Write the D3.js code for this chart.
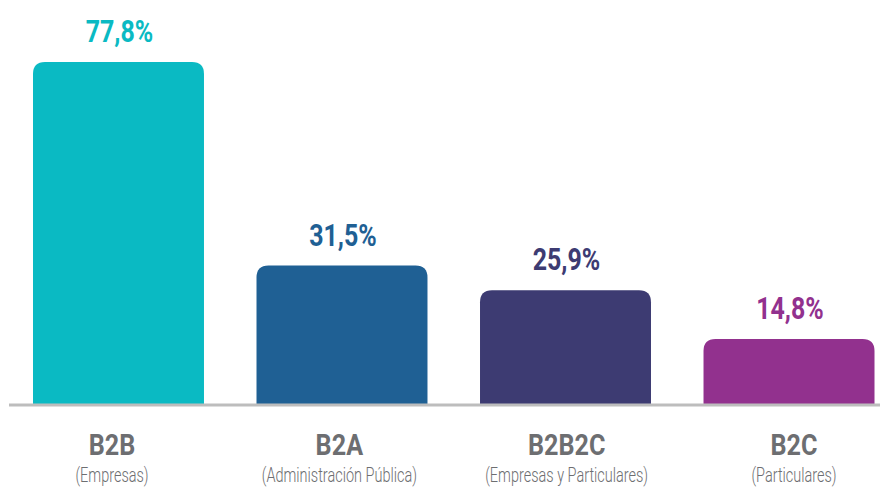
<!DOCTYPE html>
<html>
<head>
<meta charset="utf-8">
<script src="https://cdn.jsdelivr.net/npm/d3@7"></script>
<style>
  body { margin: 0; background: #fff; }
  svg { display: block; font-family: Roboto, "Noto Sans", sans-serif; }
</style>
</head>
<body>
<div id="chart"></div>
<script>
// data
const categories = ["B2B", "B2A", "B2B2C", "B2C"];
const subLabels = ["(Empresas)", "(Administración Pública)", "(Empresas y Particulares)", "(Particulares)"];
const values = [77.8, 31.5, 25.9, 14.8];
const colors = ["#0abac3", "#1f6094", "#3d3b72", "#92318e"];

const WIDTH = 880;
const HEIGHT = 487;
const BASE_Y = 404;
const RADIUS = 12;

const svg = d3.select("#chart")
    .append("svg")
    .attr("width", WIDTH)
    .attr("height", HEIGHT);

const x = d3.scaleBand()
    .domain(categories)
    .range([33, 874.5])
    .paddingInner(0.235)
    .paddingOuter(0);

// axis labels sit slightly wider apart than the bars
const xLabel = d3.scalePoint()
    .domain(categories)
    .range([112, 794]);

const y = d3.scaleLinear()
    .domain([0, 77.8])
    .range([BASE_Y, 62]);

const data = categories.map((c, i) => ({ cat: c, sub: subLabels[i], value: values[i], color: colors[i] }));

// bar with rounded top corners only
function barPath(d) {
    const x0 = x(d.cat), x1 = x0 + x.bandwidth();
    const y0 = y(d.value), r = RADIUS;
    return `M${x0},${BASE_Y}V${y0 + r}Q${x0},${y0} ${x0 + r},${y0}H${x1 - r}Q${x1},${y0} ${x1},${y0 + r}V${BASE_Y}Z`;
}

svg.selectAll(".bar")
    .data(data)
    .enter()
    .append("path")
    .attr("class", "bar")
    .attr("d", barPath)
    .attr("fill", d => d.color);

// baseline
svg.append("line")
    .attr("x1", 9)
    .attr("x2", WIDTH)
    .attr("y1", BASE_Y + 1)
    .attr("y2", BASE_Y + 1)
    .attr("stroke", "#bdbdbd")
    .attr("stroke-width", 3);

// value labels (condensed look via horizontal scale)
svg.selectAll(".value")
    .data(data)
    .enter()
    .append("text")
    .attr("class", "value")
    .attr("transform", d => `translate(${x(d.cat) + x.bandwidth() / 2 + 1},${y(d.value) - 20}) scale(0.78,1)`)
    .attr("text-anchor", "middle")
    .attr("font-size", 32)
    .attr("font-weight", 700)
    .attr("fill", d => d.color)
    .text(d => d.value.toFixed(1).replace(".", ",") + "%");

// category labels
svg.selectAll(".cat")
    .data(data)
    .enter()
    .append("text")
    .attr("class", "cat")
    .attr("transform", d => `translate(${xLabel(d.cat)},455) scale(0.84,1)`)
    .attr("text-anchor", "middle")
    .attr("font-size", 30)
    .attr("font-weight", 700)
    .attr("fill", "#6d6e71")
    .text(d => d.cat);

svg.selectAll(".sub")
    .data(data)
    .enter()
    .append("text")
    .attr("class", "sub")
    .attr("transform", d => `translate(${xLabel(d.cat)},482) scale(0.69,1)`)
    .attr("text-anchor", "middle")
    .attr("font-size", 21)
    .attr("font-weight", 300)
    .attr("fill", "#6d6e71")
    .text(d => d.sub);
</script>
</body>
</html>
